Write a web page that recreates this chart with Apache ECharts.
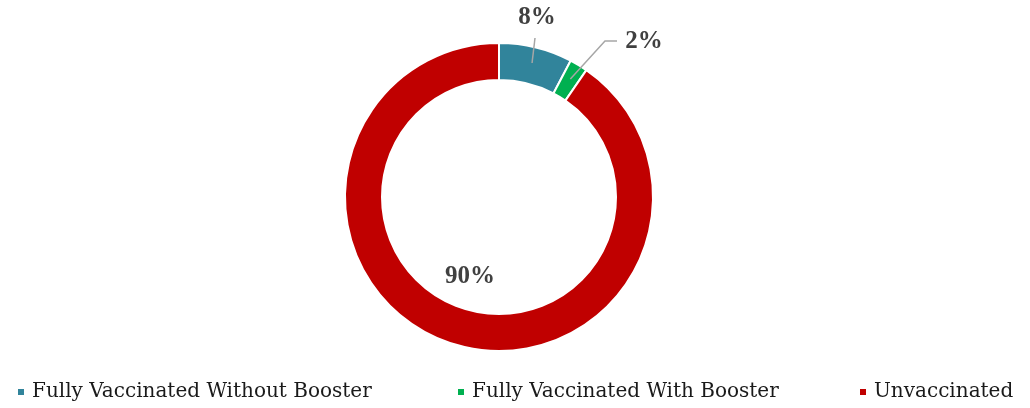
<!DOCTYPE html>
<html>
<head>
<meta charset="utf-8">
<style>
    html, body { margin: 0; padding: 0; background: #fff; }
    #chart { width: 1030px; height: 408px; }
</style>
<script src="https://cdn.jsdelivr.net/npm/echarts@6/dist/echarts.min.js"></script>
</head>
<body>
<div id="chart"></div>
<script>
const categories = ['Fully Vaccinated Without Booster', 'Fully Vaccinated With Booster', 'Unvaccinated']
const shares = [7.7, 1.9, 90.4]
const colors = ['#31849B', '#00B050', '#C00000']

// legend entry starting points
const legendLefts = [11, 451, 853]

// where each percent label sits (Excel-style placement)
const labelSpots = [
    { x: 537, y: 18, line: true },
    { x: 644, y: 42, line: true },
    { x: 470, y: 277, line: false }
]

const cx = 499, cy = 197

const chart = echarts.init(document.getElementById('chart'))

// pull the line's anchor a little into the ring, like Excel does
const inward = (pt, d) => {
    const dx = pt[0] - cx, dy = pt[1] - cy
    const len = Math.sqrt(dx * dx + dy * dy)
    return [pt[0] - dx / len * d, pt[1] - dy / len * d]
}

const pieData = categories.map((name, i) => ({ name: name, value: shares[i] }))

const option = {
    animation: false,
    color: colors,
    textStyle: { fontFamily: 'Liberation Serif' },
    legend: categories.map((name, i) => ({
        data: [name],
        left: legendLefts[i],
        top: 377,
        icon: 'rect',
        itemWidth: 8,
        itemHeight: 8,
        itemGap: 0,
        textStyle: {
            fontFamily: 'DejaVu Serif',
            fontSize: 20,
            color: '#1a1a1a',
            padding: [0, 0, 0, 2]
        }
    })),
    series: [
        {
            // the ring itself
            type: 'pie',
            center: [cx, cy],
            radius: [117, 154],
            startAngle: 90,
            clockwise: true,
            label: { show: false },
            labelLine: { show: false },
            itemStyle: {
                borderColor: '#fff',
                borderWidth: 2
            },
            z: 2,
            data: pieData
        },
        {
            // invisible copy on top, only for the labels and their leader lines
            type: 'pie',
            center: [cx, cy],
            radius: [117, 154],
            startAngle: 90,
            clockwise: true,
            silent: true,
            avoidLabelOverlap: false,
            z: 5,
            itemStyle: { color: 'rgba(0,0,0,0)', borderWidth: 0 },
            label: {
                show: true,
                position: 'outside',
                formatter: (p) => Math.round(p.value) + '%',
                fontFamily: 'Liberation Serif',
                fontWeight: 'bold',
                fontSize: 25,
                color: '#404040'
            },
            labelLine: {
                show: true,
                length: 8,
                length2: 10,
                lineStyle: { color: '#a6a6a6', width: 1.5 }
            },
            labelLayout: (params) => {
                const i = params.dataIndex
                const s = labelSpots[i]
                const res = {
                    x: s.x,
                    y: s.y,
                    align: 'center',
                    verticalAlign: 'middle',
                    hideOverlap: false
                }
                if (s.line && params.labelLinePoints) {
                    const a = inward(params.labelLinePoints[0], 16)
                    if (i === 0) {
                        res.labelLinePoints = [[s.x - 2, s.y + 20], [s.x - 2, s.y + 20], a]
                    } else {
                        res.labelLinePoints = [[s.x - 27, s.y - 1], [s.x - 39, s.y - 1], a]
                    }
                }
                return res
            },
            data: pieData.map((d, i) => ({
                name: d.name,
                value: d.value,
                labelLine: { show: labelSpots[i].line }
            }))
        }
    ]
}

chart.setOption(option)
</script>
</body>
</html>
